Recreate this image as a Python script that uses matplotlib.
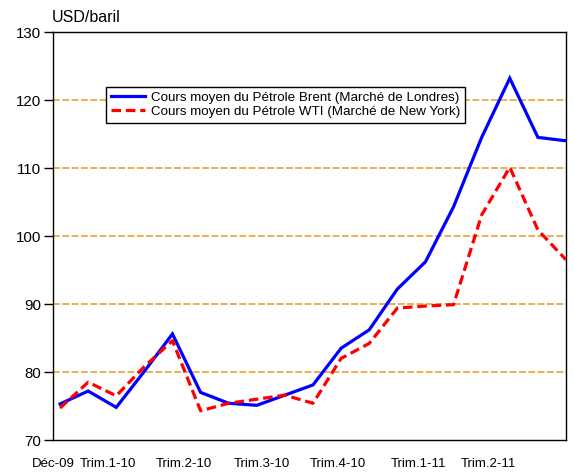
import matplotlib
matplotlib.use("Agg")
import matplotlib.pyplot as plt
import numpy as np

plt.rcParams['font.family'] = ['Liberation Sans', 'DejaVu Sans']

months = list(range(19))  # Déc-09 .. Juin-11
brent = [75.3, 77.2, 74.8, 80.1, 85.6, 77.0, 75.4, 75.1, 76.6, 78.1,
         83.5, 86.2, 92.2, 96.2, 104.3, 114.5, 123.2, 114.5, 114.0]
wti = [74.7, 78.5, 76.5, 80.8, 84.6, 74.3, 75.4, 76.0, 76.6, 75.4,
       82.0, 84.2, 89.4, 89.7, 89.9, 103.1, 110.1, 100.9, 96.5]
tick_labels = ['Déc-09', 'Trim.1-10', 'Trim.2-10', 'Trim.3-10',
               'Trim.4-10', 'Trim.1-11', 'Trim.2-11']
tick_pos = [-0.25, 1.72, 4.42, 7.19, 9.89, 12.74, 15.23]
yticks = [70, 80, 90, 100, 110, 120, 130]
grid_levels = [80, 90, 100, 110, 120]

W, H = 574, 473
fig = plt.figure(figsize=(W / 100, H / 100), dpi=100)
ax = fig.add_axes([53 / W, 1 - 440 / H, (566 - 53) / W, (440 - 32) / H])

for g in grid_levels:
    ax.axhline(g, color='#E59B22', lw=1.1, dashes=(4.5, 1.6), zorder=1)

ax.plot(months, brent, color='#0000FF', lw=2.3, zorder=3, solid_joinstyle='miter',
        label='Cours moyen du Pétrole Brent (Marché de Londres)')
ax.plot(months, wti, color='#FF0000', lw=2.3, dashes=(3.0, 1.5), zorder=3,
        label='Cours moyen du Pétrole WTI (Marché de New York)')

ax.set_xlim(0, 18)
ax.set_ylim(70, 130)
ax.set_yticks(yticks)
ax.tick_params(axis='y', direction='out', length=6.5, width=1, labelsize=10.8, pad=2)
ax.set_xticks(tick_pos)
ax.set_xticklabels(tick_labels, fontsize=9.5)
ax.tick_params(axis='x', length=0, pad=13)
for s in ax.spines.values():
    s.set_linewidth(1.0)
    s.set_color('black')

fig.text(52 / W, 1 - 18 / H, 'USD/baril', fontsize=11.5, va='center', ha='left')

leg = ax.legend(loc='upper left', bbox_to_anchor=((106 - 53) / 513, 1 - (87 - 32) / 408),
                fontsize=9.6, frameon=True, fancybox=False, edgecolor='black',
                framealpha=1, handlelength=2.6, handletextpad=0.4, borderpad=0.35,
                labelspacing=0.12, borderaxespad=0)
leg.get_frame().set_linewidth(1.0)

fig.savefig('out.png', dpi=100)
